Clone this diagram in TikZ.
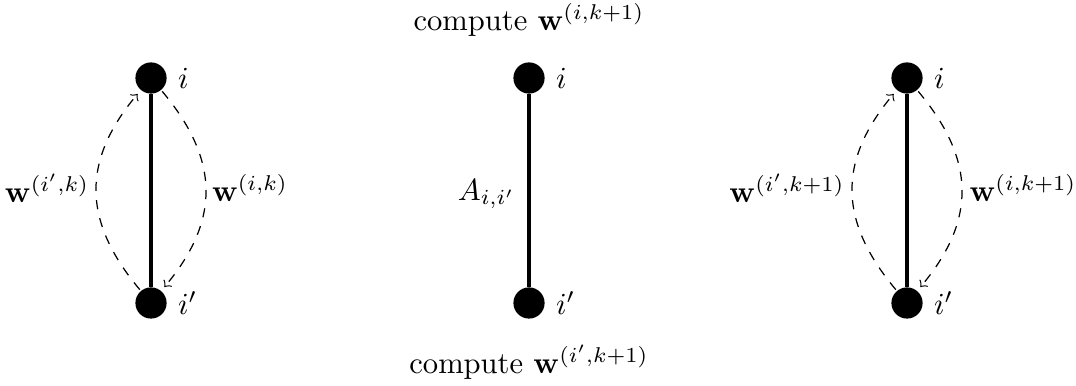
\documentclass[tikz,border=0pt]{standalone}
\usepackage{amsmath}
\begin{document}
\begin{tikzpicture}[x=0.01149cm,y=-0.01149cm,
  vert/.style={circle,fill=black,inner sep=0pt,minimum size=10.2pt},
  edge/.style={line width=1.3pt},
  msg/.style={dashed,->,line width=0.4pt,shorten <=0.4pt,shorten >=1.5pt,looseness=1.17},
  vlab/.style={label distance=0pt}]
\useasboundingbox (0,0) rectangle (1076,386);
% left
\node[vert,label={[vlab]right:$i$}] (Lt) at (151,78) {};
\node[vert,label={[vlab]right:$i'$}] (Lb) at (151,303) {};
\draw[edge] (Lt) -- (Lb);
\draw[msg] (Lb) to[out=130,in=230] (Lt);
\draw[msg] (Lt) to[out=-50,in=50] (Lb);
\node (Ll) at (47,188) {$\mathbf{w}^{(i',k)}$};
\node (Lr) at (250,188) {$\mathbf{w}^{(i,k)}$};
% middle
\node[vert,label={[vlab]right:$i$}] (Mt) at (529,78) {};
\node[vert,label={[vlab]right:$i'$}] (Mb) at (529,303) {};
\draw[edge] (Mt) -- (Mb);
\node[anchor=east] (Ml) at (526,194) {$A_{i,i'}$};
\node (Mtop) at (529,20) {compute $\mathbf{w}^{(i,k+1)}$};
\node (Mbot) at (529,362) {compute $\mathbf{w}^{(i',k+1)}$};
% right
\node[vert,label={[vlab]right:$i$}] (Rt) at (907,78) {};
\node[vert,label={[vlab]right:$i'$}] (Rb) at (907,303) {};
\draw[edge] (Rt) -- (Rb);
\draw[msg] (Rb) to[out=130,in=230] (Rt);
\draw[msg] (Rt) to[out=-50,in=50] (Rb);
\node (Rl) at (787,188) {$\mathbf{w}^{(i',k+1)}$};
\node (Rr) at (1023,188) {$\mathbf{w}^{(i,k+1)}$};
\end{tikzpicture}
\end{document}
